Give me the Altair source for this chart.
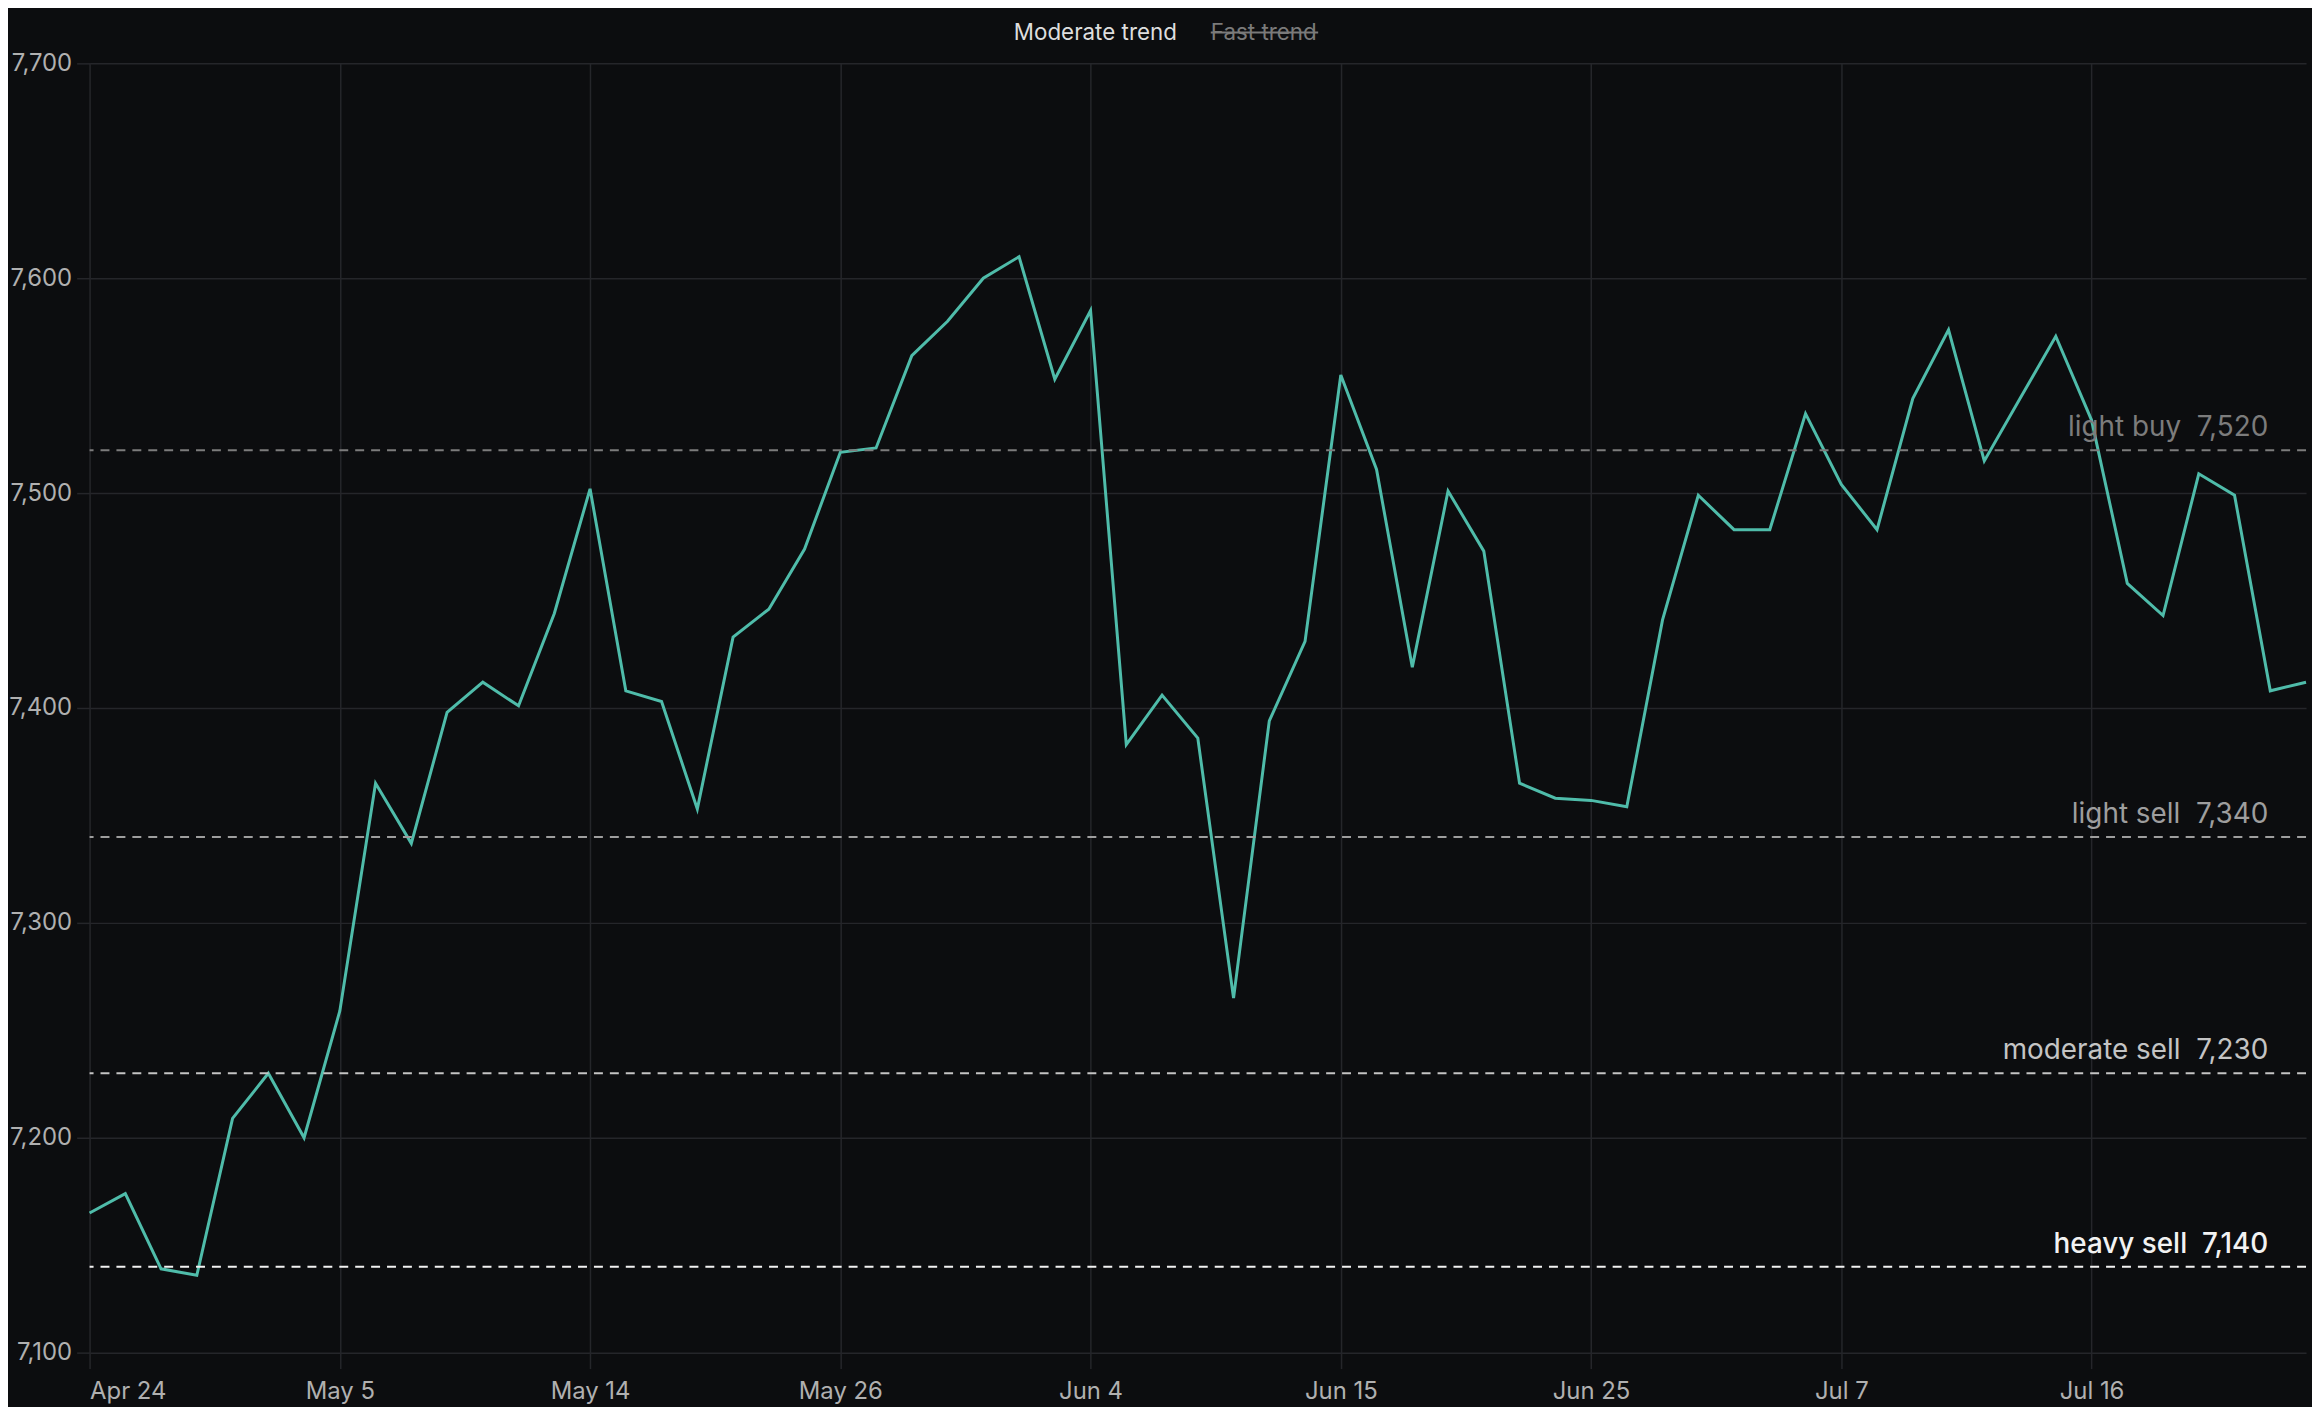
import altair as alt
import pandas as pd

# ---- data ----
tick_labels = ["Apr 24", "May 5", "May 14", "May 26", "Jun 4",
               "Jun 15", "Jun 25", "Jul 7", "Jul 16"]
TICK_STEP = 7  # one labelled tick every 7 trading sessions

moderate_trend = [
    7165, 7174, 7139, 7136, 7209, 7230, 7200, 7259, 7365, 7337,
    7398, 7412, 7401, 7444, 7502, 7408, 7403, 7353, 7433, 7446,
    7474, 7519, 7521, 7564, 7580, 7600, 7610, 7553, 7585, 7383,
    7406, 7386, 7265, 7394, 7431, 7555, 7511, 7419, 7501, 7473,
    7365, 7358, 7357, 7354, 7441, 7499, 7483, 7483, 7537, 7504,
    7483, 7544, 7576, 7515, 7544, 7573, 7534, 7458, 7443, 7509,
    7499, 7408, 7412,
]

level_names = ["light buy", "light sell", "moderate sell", "heavy sell"]
level_values = [7520, 7340, 7230, 7140]

series_names = ["Moderate trend", "Fast trend"]

y_ticks = [7100, 7200, 7300, 7400, 7500, 7600, 7700]

# ---- styling ----
W, H = 2228, 1296
BG = "#0c0d0f"
GRID = "#25262a"
LINE = "#4fbcaa"
FONT = "Inter"
level_colors = ["#7c7c7c", "#9e9e9e", "#c4c4c4", "#f2f2f2"]

df = pd.DataFrame({"idx": list(range(len(moderate_trend))), "value": moderate_trend})
ref = pd.DataFrame({"name": level_names, "level": level_values})

label_array = "[" + ",".join("'" + t + "'" for t in tick_labels) + "]"
x_enc = alt.X(
    "idx:Q",
    scale=alt.Scale(domain=[0, len(moderate_trend) - 1], nice=False, zero=False),
    axis=alt.Axis(
        values=[i * TICK_STEP for i in range(len(tick_labels))],
        labelExpr=label_array + "[round(datum.value / " + str(TICK_STEP) + ")]",
        title=None, tickSize=16, labelPadding=11, labelAngle=0,
    ),
)
y_scale = alt.Scale(domain=[y_ticks[0], y_ticks[-1]], nice=False, zero=False)
y_axis = alt.Axis(values=y_ticks, format=",d", title=None, tickSize=13, labelPadding=5)
y_enc = alt.Y("value:Q", scale=y_scale, axis=y_axis)
y_level = alt.Y("level:Q", scale=y_scale, axis=y_axis)

line = alt.Chart(df).mark_line(color=LINE, strokeWidth=3).encode(x=x_enc, y=y_enc)

color_enc = alt.Color("name:N", scale=alt.Scale(domain=level_names, range=level_colors), legend=None)

rules = alt.Chart(ref).mark_rule(strokeDash=[9, 7], strokeWidth=2).encode(
    y=y_level, color=color_enc
)

label_calc = "datum.name + '\u00a0\u00a0' + format(datum.level, ',')"
labels = (
    alt.Chart(ref)
    .transform_filter("datum.name != 'heavy sell'")
    .transform_calculate(label=label_calc)
    .mark_text(align="right", baseline="alphabetic", dy=-14, fontSize=28, font=FONT)
    .encode(x=alt.value(W - 38), y=y_level, text="label:N", color=color_enc)
)
labels_heavy = (
    alt.Chart(ref)
    .transform_filter("datum.name == 'heavy sell'")
    .transform_calculate(label=label_calc)
    .mark_text(align="right", baseline="alphabetic", dy=-14, fontSize=28, font=FONT, fontWeight=500)
    .encode(x=alt.value(W - 38), y=y_level, text="label:N", color=color_enc)
)

# ---- legend (top, centred) ----
leg_on = alt.Chart(pd.DataFrame({"s": [series_names[0]]})).mark_text(
    align="left", baseline="alphabetic", fontSize=22.5, font=FONT, color="#dedede"
).encode(x=alt.value(929), y=alt.value(-23), text="s:N")
leg_off = alt.Chart(pd.DataFrame({"s": [series_names[1]]})).mark_text(
    align="left", baseline="alphabetic", fontSize=22.5, font=FONT, color="#7a7a7a"
).encode(x=alt.value(1127), y=alt.value(-23), text="s:N")
leg_strike = alt.Chart(pd.DataFrame({"s": [series_names[1]]})).mark_rule(
    color="#7a7a7a", strokeWidth=2
).encode(x=alt.value(1127), x2=alt.value(1235), y=alt.value(-31))

chart = (
    alt.layer(line, rules, labels, labels_heavy, leg_on, leg_off, leg_strike)
    .properties(width=W, height=H, background=BG,
                padding={"left": 0, "top": 11, "right": 0, "bottom": 0})
    .configure_view(stroke=None)
    .configure_axis(
        grid=True, gridColor=GRID, gridWidth=1.5, tickColor=GRID, tickWidth=1.5,
        domain=False, labelColor="#b0b0b0", labelFont=FONT, labelFontSize=24,
    )
)

chart.save("out.html", embed_options={"renderer": "svg", "actions": False})
